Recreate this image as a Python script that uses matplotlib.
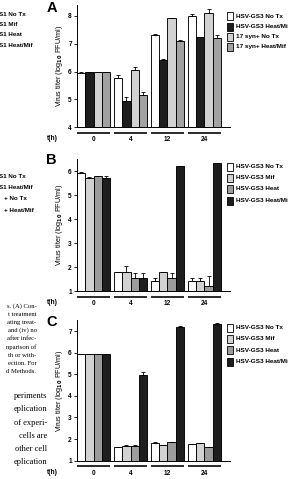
import matplotlib.pyplot as plt
from matplotlib.patches import Rectangle
from matplotlib.transforms import Affine2D

plt.rcParams['font.family'] = ['Liberation Sans', 'DejaVu Sans']
plt.rcParams['font.weight'] = 'bold'
plt.rcParams['mathtext.default'] = 'bf'

W, H = 288, 479
times = ["0", "4", "12", "24"]

# panel A
labels_a = ["HSV-GS3 No Tx", "HSV-GS3 Heat/Mif", "17 syn+ No Tx", "17 syn+ Heat/Mif"]
colors_a = ["white", "#1e1e1e", "#d2d2d2", "#a2a2a2"]
gs3_notx_a = [5.95, 5.75, 7.32, 7.99]
gs3_heatmif_a = [5.97, 4.94, 6.43, 7.25]
syn_notx_a = [5.97, 6.06, 7.91, 8.10]
syn_heatmif_a = [5.97, 5.16, 7.11, 7.22]
err_a = [[0.02, 0.13, 0.04, 0.07],
         [0.02, 0.14, 0.01, 0.01],
         [0.02, 0.10, 0.01, 0.16],
         [0.02, 0.09, 0.01, 0.08]]

# panel B / C share series names
labels_bc = ["HSV-GS3 No Tx", "HSV-GS3 Mif", "HSV-GS3 Heat", "HSV-GS3 Heat/Mif"]
colors_bc = ["white", "#d2d2d2", "#9c9c9c", "#1e1e1e"]

notx_b = [5.94, 1.78, 1.40, 1.40]
mif_b = [5.74, 1.78, 1.78, 1.40]
heat_b = [5.80, 1.53, 1.53, 1.21]
heatmif_b = [5.73, 1.53, 6.23, 6.37]
err_b = [[0.02, 0.02, 0.15, 0.15],
         [0.01, 0.28, 0.03, 0.15],
         [0.01, 0.21, 0.21, 0.40],
         [0.06, 0.21, 0.00, 0.00]]

notx_c = [5.94, 1.62, 1.83, 1.76]
mif_c = [5.94, 1.69, 1.72, 1.82]
heat_c = [5.94, 1.69, 1.86, 1.62]
heatmif_c = [5.92, 4.96, 7.21, 7.35]
err_c = [[0.01, 0.02, 0.02, 0.02],
         [0.01, 0.02, 0.01, 0.02],
         [0.01, 0.02, 0.02, 0.01],
         [0.02, 0.13, 0.03, 0.03]]

fig = plt.figure(figsize=(W / 100, H / 100), dpi=100)
# pixel coordinates with origin at top left
pix = Affine2D().scale(1 / W, -1 / H).translate(0, 1) + fig.transFigure

bw = 0.222


def panel(top, bottom, ylim, yticks, series, errs, colors, labels, letter, letter_y, leg_y):
    left, right = 76.7, 230
    ax = fig.add_axes([left / W, 1 - bottom / H, (right - left) / W, (bottom - top) / H])
    for i, (vals, err, col) in enumerate(zip(series, errs, colors)):
        x = [g + (i - 1.5) * bw for g in range(len(times))]
        ax.bar(x, vals, width=bw, color=col, edgecolor="black", linewidth=0.65,
               yerr=[[0] * len(err), err],
               error_kw=dict(ecolor="black", elinewidth=0.6, capsize=1.3, capthick=0.6))
    ax.set_xlim(-0.455, 3.69)
    ax.set_ylim(*ylim)
    ax.set_yticks(yticks)
    ax.set_xticks(range(len(times)))
    ax.set_xticklabels(times)
    ax.tick_params(axis="x", length=0, pad=6.8, labelsize=4.7)
    ax.tick_params(axis="y", length=2, width=0.6, pad=1.5, labelsize=4.7)
    for s in ["top", "right"]:
        ax.spines[s].set_visible(False)
    for s in ["left", "bottom"]:
        ax.spines[s].set_linewidth(0.7)
    ax.set_ylabel(r"Virus titer (log$_{10}$ PFU/ml)", fontsize=5.2, labelpad=2)
    # group bars under the x axis
    yoff = -5.5 / (bottom - top)
    for g in range(len(times)):
        ax.plot([g - 2 * bw, g + 2 * bw], [yoff, yoff], color="#2a2a2a", lw=1.4,
                transform=ax.get_xaxis_transform(), clip_on=False, solid_capstyle="butt")
    fig.text(52.5, bottom + 12, "t(h)", transform=pix, fontsize=4.8, ha="center", va="center")
    fig.text(51.5, letter_y, letter, transform=pix, fontsize=10.5, ha="center", va="center")
    # legend
    for i, (lab, col) in enumerate(zip(labels, colors)):
        y = leg_y[i]
        fig.add_artist(Rectangle((227, y - 4), 6, 8, transform=pix, facecolor=col,
                                 edgecolor="black", linewidth=0.6))
        fig.text(236.5, y, lab, transform=pix, fontsize=4.55, ha="left", va="center")
    return ax


panel(4.9, 127, (4, 8.4), [4, 5, 6, 7, 8],
      [gs3_notx_a, gs3_heatmif_a, syn_notx_a, syn_heatmif_a], err_a,
      colors_a, labels_a, "A", 8.4, [16, 26.5, 36.5, 46.5])
panel(159.5, 291, (1, 6.5), [1, 2, 3, 4, 5, 6],
      [notx_b, mif_b, heat_b, heatmif_b], err_b,
      colors_bc, labels_bc, "B", 160.5, [166.7, 177.8, 189, 200.5])
panel(320.3, 460.7, (1, 7.5), [1, 2, 3, 4, 5, 6, 7],
      [notx_c, mif_c, heat_c, heatmif_c], err_c,
      colors_bc, labels_bc, "C", 322.5, [328, 339, 350.5, 362])

# fragments of the neighbouring column cut by the page crop
left_frag_1 = ["S1 No Tx", "S1 Mif", "S1 Heat", "S1 Heat/Mif"]
left_frag_2 = ["S1 No Tx", "S1 Heat/Mif", "+ No Tx", "+ Heat/Mif"]
for lab, y in zip(left_frag_1, [14.3, 24.3, 35, 45.5]):
    fig.text(-1, y, lab, transform=pix, fontsize=4.5, ha="left", va="center")
for lab, y, x in zip(left_frag_2, [176.7, 187.7, 199, 210.7], [-1, -1, 4, 4]):
    fig.text(x, y, lab, transform=pix, fontsize=4.5, ha="left", va="center")

caption = ["s. (A) Con-", "t treatment", "ating treat-", "and (iv) no", "after infec-",
           "nparison of", "th or with-", "ection. For", "d Methods."]
body = ["periments", "eplication", "of experi-", "cells are", "other cell", "eplication"]
for k, line in enumerate(caption):
    fig.text(36.5, 306 + 8.2 * k, line, transform=pix, fontsize=4.8, ha="right", va="center",
             family=["Liberation Serif"], weight="normal")
for k, line in enumerate(body):
    fig.text(47.5, 396 + 13.3 * k, line, transform=pix, fontsize=6.0, ha="right", va="center",
             family=["Liberation Serif"], weight="normal")

fig.savefig("out.png", dpi=100)
